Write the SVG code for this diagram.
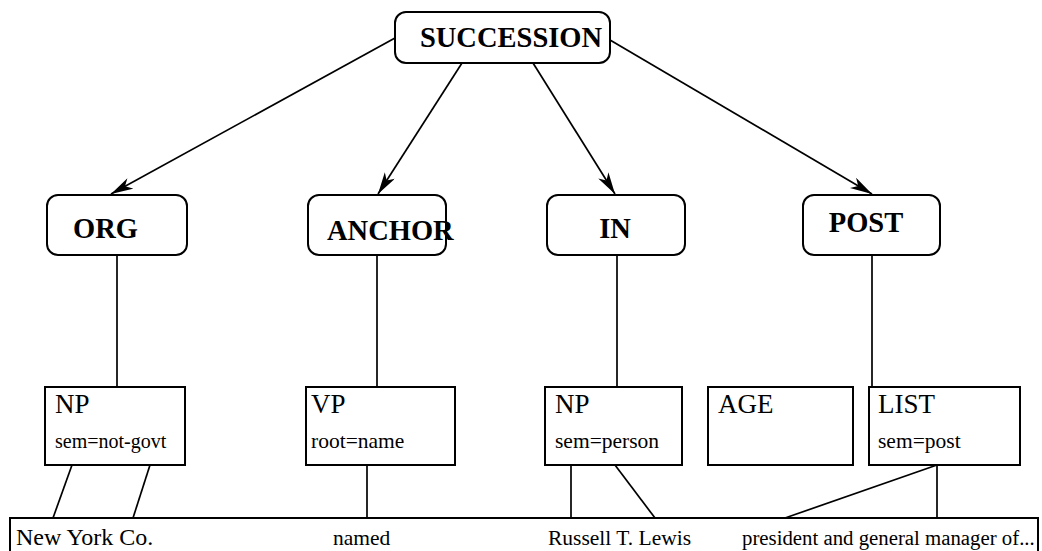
<svg xmlns="http://www.w3.org/2000/svg" width="1042" height="551" viewBox="0 0 1042 551">
  <style>
    .frame { fill: #fff; stroke: #000; stroke-width: 2; }
    .edge { fill: none; stroke: #000; stroke-width: 1.7; }
    .role { font-family: "Liberation Serif", "Times New Roman", serif; font-weight: bold; font-size: 28.5px; fill: #000; }
    .cat { font-family: "Liberation Serif", "Times New Roman", serif; font-size: 27px; fill: #000; }
    .feat { font-family: "Liberation Serif", "Times New Roman", serif; font-size: 21.5px; fill: #000; }
    .word { font-family: "Liberation Serif", "Times New Roman", serif; font-size: 21.5px; fill: #000; }
  </style>
  <defs>
    <marker id="arrow" markerUnits="userSpaceOnUse" markerWidth="24" markerHeight="14" refX="22" refY="6" orient="auto">
      <path d="M0,0 L22,6 L0,12 L6,6 z" fill="#000"/>
    </marker>
  </defs>
  <rect width="1042" height="551" fill="#fff"/>

  <!-- connectors -->
  <g id="connectors">
    <line class="edge" x1="395" y1="38" x2="111" y2="194" marker-end="url(#arrow)"/>
    <line class="edge" x1="462" y1="63" x2="378" y2="194" marker-end="url(#arrow)"/>
    <line class="edge" x1="533" y1="63" x2="615" y2="194" marker-end="url(#arrow)"/>
    <line class="edge" x1="610" y1="40" x2="872" y2="194" marker-end="url(#arrow)"/>
    <line class="edge" x1="117" y1="255" x2="117" y2="387"/>
    <line class="edge" x1="377" y1="255" x2="377" y2="387"/>
    <line class="edge" x1="617" y1="255" x2="617" y2="387"/>
    <line class="edge" x1="872" y1="255" x2="872" y2="387"/>
    <line class="edge" x1="72" y1="465" x2="53" y2="518"/>
    <line class="edge" x1="150" y1="465" x2="133" y2="518"/>
    <line class="edge" x1="367" y1="465" x2="367" y2="518"/>
    <line class="edge" x1="571" y1="465" x2="571" y2="518"/>
    <line class="edge" x1="615" y1="465" x2="655" y2="518"/>
    <line class="edge" x1="937" y1="465" x2="785" y2="518"/>
    <line class="edge" x1="937" y1="465" x2="937" y2="518"/>
  </g>

  <!-- template slots -->
  <g id="succession">
    <rect class="frame" x="395" y="12" width="215" height="51" rx="11"/>
    <text class="role" x="511" y="47" text-anchor="middle">SUCCESSION</text>
  </g>
  <g id="org">
    <rect class="frame" x="47" y="195" width="140" height="60" rx="11"/>
    <text class="role" x="105.5" y="238" text-anchor="middle">ORG</text>
  </g>
  <g id="anchor">
    <rect class="frame" x="308" y="195" width="138" height="60" rx="11"/>
    <text class="role" x="327" y="240">ANCHOR</text>
  </g>
  <g id="in">
    <rect class="frame" x="547" y="195" width="138" height="60" rx="11"/>
    <text class="role" x="615" y="238" text-anchor="middle">IN</text>
  </g>
  <g id="post">
    <rect class="frame" x="803" y="195" width="137" height="60" rx="11"/>
    <text class="role" x="866" y="232" text-anchor="middle">POST</text>
  </g>

  <!-- phrase constituents -->
  <g id="np-org">
    <rect class="frame" x="45" y="387" width="140" height="78"/>
    <text class="cat" x="55" y="413">NP</text>
    <text class="feat" x="55" y="448" style="font-size:20px">sem=not-govt</text>
  </g>
  <g id="vp">
    <rect class="frame" x="306" y="387" width="149" height="78"/>
    <text class="cat" x="311" y="413">VP</text>
    <text class="feat" x="311" y="448">root=name</text>
  </g>
  <g id="np-person">
    <rect class="frame" x="545" y="387" width="137" height="78"/>
    <text class="cat" x="555" y="413">NP</text>
    <text class="feat" x="555" y="448">sem=person</text>
  </g>
  <g id="age">
    <rect class="frame" x="708" y="387" width="145" height="78"/>
    <text class="cat" x="718" y="413">AGE</text>
  </g>
  <g id="list">
    <rect class="frame" x="869" y="387" width="151" height="78"/>
    <text class="cat" x="878" y="413">LIST</text>
    <text class="feat" x="878" y="448">sem=post</text>
  </g>

  <!-- input sentence -->
  <g id="sentence">
    <rect class="frame" x="10" y="518" width="1028" height="60"/>
    <text class="word" x="16" y="545" style="font-size:24px">New York Co.</text>
    <text class="word" x="333" y="545">named</text>
    <text class="word" x="548" y="545">Russell T. Lewis</text>
    <text class="word" x="742" y="545" style="font-size:20.8px">president and general manager of...</text>
  </g>
</svg>
